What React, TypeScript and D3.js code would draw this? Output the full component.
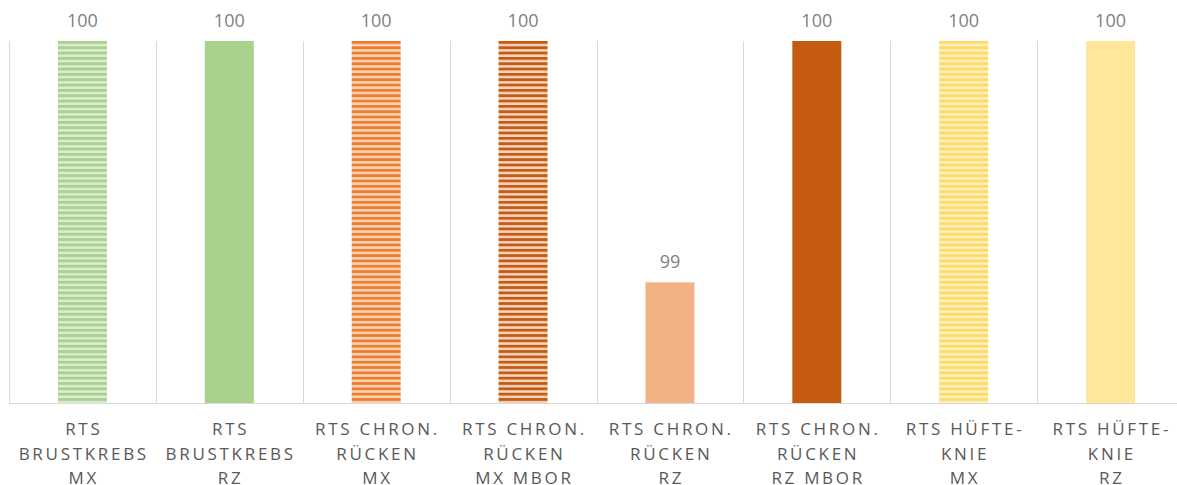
import * as d3 from "d3";

// categories, one line per entry
const categories: string[][] = [
  ["RTS", "BRUSTKREBS", "MX"],
  ["RTS", "BRUSTKREBS", "RZ"],
  ["RTS CHRON.", "RÜCKEN", "MX"],
  ["RTS CHRON.", "RÜCKEN", "MX MBOR"],
  ["RTS CHRON.", "RÜCKEN", "RZ"],
  ["RTS CHRON.", "RÜCKEN", "RZ MBOR"],
  ["RTS HÜFTE-", "KNIE", "MX"],
  ["RTS HÜFTE-", "KNIE", "RZ"],
];
const values = [100, 100, 100, 100, 99, 100, 100, 100];
const baseColors = ["#a9d18e", "#a9d18e", "#ed7d31", "#c55a11", "#f4b183", "#c55a11", "#ffd966", "#ffe699"];
const lightColors = ["#dcecd2", "", "#f9d3b8", "#f3d4c0", "", "", "#fff0c0", ""];
const striped = [true, false, true, true, false, false, true, false];

const width = 1177;
const height = 485;
const margin = { top: 41, bottom: 82, left: 9, right: -7 };

export default function App() {
  const keys = categories.map((c) => c.join(" "));
  const x = d3.scaleBand<string>()
    .domain(keys)
    .range([margin.left, width - margin.right])
    .padding(0);
  const y = d3.scaleLinear()
    .domain([98.5, 100])
    .range([height - margin.bottom, margin.top]);
  const bw = x.bandwidth();
  const barW = bw / 3;
  const y0 = y.range()[0];
  const ls = 2.7;

  return (
    <div style={{ position: "fixed", left: 0, top: 0 }}>
      <svg width={width} height={height} style={{ display: "block", background: "#fff" }}>
        <defs>
          {values.map((_, i) =>
            striped[i] ? (
              <pattern key={i} id={`stripe${i}`} patternUnits="userSpaceOnUse" width={8} height={5.33} y={margin.top}>
                <rect width={8} height={5.33} fill={lightColors[i]} />
                <rect width={8} height={2.8} fill={baseColors[i]} />
              </pattern>
            ) : null
          )}
        </defs>

        {/* category separators */}
        {d3.range(keys.length + 1).map((i) => {
          const gx = Math.round(margin.left + i * bw) + 0.5;
          return <line key={i} x1={gx} x2={gx} y1={margin.top} y2={y0} stroke="#d9d9d9" strokeWidth={1} />;
        })}

        {/* bars */}
        {keys.map((k, i) => (
          <rect
            key={k}
            x={(x(k) ?? 0) + barW}
            y={y(values[i])}
            width={barW}
            height={y0 - y(values[i])}
            fill={striped[i] ? `url(#stripe${i})` : baseColors[i]}
          />
        ))}

        <line x1={margin.left} x2={width} y1={y0 + 0.5} y2={y0 + 0.5} stroke="#d9d9d9" strokeWidth={1} />

        {/* value labels */}
        {keys.map((k, i) => (
          <text
            key={k}
            x={(x(k) ?? 0) + bw / 2}
            y={y(values[i]) - 14}
            textAnchor="middle"
            fill="#7f7f7f"
            fontSize={18}
            fontFamily="'Open Sans', sans-serif"
          >
            {values[i]}
          </text>
        ))}

        {/* category labels */}
        {keys.map((k, i) => (
          <text
            key={k}
            textAnchor="middle"
            fill="#595959"
            fontSize={17}
            letterSpacing={ls}
            fontFamily="'Open Sans', sans-serif"
          >
            {categories[i].map((line, j) => (
              <tspan key={j} x={(x(k) ?? 0) + bw / 2 + ls / 2} y={435 + j * 24.5}>
                {line}
              </tspan>
            ))}
          </text>
        ))}
      </svg>
    </div>
  );
}
